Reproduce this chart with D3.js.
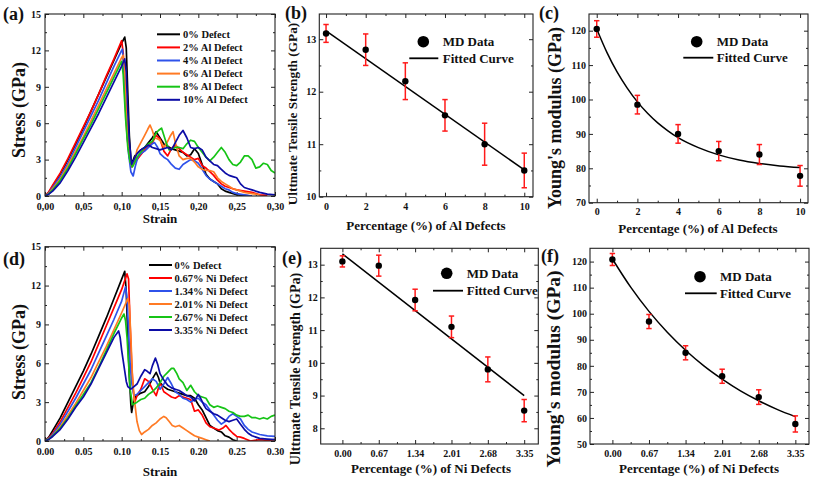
<!DOCTYPE html>
<html><head><meta charset="utf-8">
<script src="https://cdn.jsdelivr.net/npm/d3@7"></script>
<style>body{margin:0;background:#fff}svg{display:block}</style>
</head><body><svg id="c" width="813" height="482"></svg>
<script>
// ---------------- DATA ----------------
const strainTicks = [0,0.05,0.10,0.15,0.20,0.25,0.30];
const strainMinor = [0.025,0.075,0.125,0.175,0.225,0.275];
const stressTicks = [0,3,6,9,12,15];
const stressMinor = [1.5,4.5,7.5,10.5,13.5];

const alLegend = ["0% Defect","2% Al Defect","4% Al Defect","6% Al Defect","8% Al Defect","10% Al Defect"];
const niLegend = ["0% Defect","0.67% Ni Defect","1.34% Ni Defect","2.01% Ni Defect","2.67% Ni Defect","3.35% Ni Defect"];
const curveColors = ["#000000","#ff0000","#2f52ea","#ff7a24","#16c416","#0c0ca6"];

const al0 = [[0,0],[0.005,0.3],[0.01,0.8],[0.02,1.8],[0.03,3.0],[0.04,4.3],[0.05,5.6],[0.06,7.0],[0.07,8.4],[0.08,9.8],[0.09,11.2],[0.1,12.6],[0.104,13.1],[0.106,12.2],[0.108,8.5],[0.11,5.0],[0.112,3.0],[0.114,2.8],[0.117,3.3],[0.12,3.5],[0.125,3.8],[0.13,4.0],[0.135,4.4],[0.14,4.8],[0.145,5.3],[0.148,5.0],[0.152,4.6],[0.156,4.2],[0.16,4.1],[0.165,3.9],[0.17,3.8],[0.175,3.7],[0.18,3.6],[0.185,3.3],[0.19,3.4],[0.195,3.9],[0.2,3.5],[0.205,2.6],[0.21,1.8],[0.215,1.4],[0.22,1.2],[0.225,1.0],[0.23,0.6],[0.235,0.4],[0.24,0.3],[0.25,0.1],[0.26,0.05],[0.27,0]];
const al2 = [[0,0],[0.005,0.35],[0.01,0.9],[0.02,1.9],[0.03,3.1],[0.04,4.4],[0.05,5.7],[0.06,7.0],[0.07,8.4],[0.08,9.9],[0.09,11.3],[0.1,12.8],[0.102,11.8],[0.104,8.5],[0.107,5.0],[0.11,3.2],[0.113,2.4],[0.116,2.7],[0.12,3.0],[0.125,3.4],[0.13,3.8],[0.135,4.1],[0.14,4.4],[0.145,5.0],[0.15,4.7],[0.155,3.7],[0.16,3.3],[0.165,3.9],[0.17,4.2],[0.175,3.9],[0.18,3.6],[0.185,3.4],[0.19,3.2],[0.195,3.0],[0.2,3.1],[0.205,2.5],[0.21,2.3],[0.215,2.0],[0.22,1.7],[0.225,1.3],[0.23,1.0],[0.235,0.8],[0.24,0.7],[0.245,0.6],[0.25,0.5],[0.26,0.4],[0.27,0.3],[0.28,0.1],[0.29,0.05]];
const al4 = [[0,0],[0.005,0.25],[0.01,0.7],[0.02,1.6],[0.03,2.7],[0.04,4.0],[0.05,5.3],[0.06,6.6],[0.07,7.9],[0.08,9.3],[0.09,10.7],[0.1,12.0],[0.101,12.1],[0.103,10.5],[0.106,6.5],[0.109,3.5],[0.112,2.0],[0.115,1.65],[0.118,2.5],[0.121,3.2],[0.125,3.5],[0.13,3.7],[0.135,4.0],[0.14,4.3],[0.143,4.4],[0.147,4.0],[0.15,3.5],[0.155,3.2],[0.16,3.0],[0.165,2.6],[0.17,2.3],[0.175,2.2],[0.18,2.6],[0.185,2.8],[0.19,3.0],[0.195,2.9],[0.2,2.7],[0.205,2.2],[0.21,1.7],[0.215,1.4],[0.22,1.2],[0.225,1.0],[0.23,0.8],[0.235,0.6],[0.24,0.5],[0.245,0.3],[0.25,0.2],[0.26,0.1],[0.27,0]];
const al6 = [[0,0],[0.005,0.2],[0.01,0.6],[0.02,1.4],[0.03,2.5],[0.04,3.7],[0.05,4.9],[0.06,6.2],[0.07,7.5],[0.08,8.8],[0.09,10.1],[0.1,11.4],[0.102,11.6],[0.104,10.5],[0.106,7.0],[0.109,4.0],[0.112,2.6],[0.115,2.5],[0.118,3.2],[0.12,3.8],[0.125,4.4],[0.13,5.0],[0.134,5.5],[0.137,5.85],[0.14,5.4],[0.143,4.8],[0.147,4.7],[0.15,4.6],[0.155,4.0],[0.16,4.5],[0.163,4.9],[0.167,5.3],[0.17,4.4],[0.175,3.3],[0.18,3.0],[0.185,3.1],[0.19,3.1],[0.195,2.8],[0.2,2.4],[0.205,2.2],[0.21,2.1],[0.215,2.1],[0.22,2.0],[0.225,1.5],[0.23,1.2],[0.235,1.0],[0.24,0.8],[0.245,0.6],[0.25,0.5],[0.26,0.3],[0.27,0.2],[0.28,0.1]];
const al8 = [[0,0],[0.005,0.18],[0.01,0.5],[0.02,1.3],[0.03,2.3],[0.04,3.5],[0.05,4.7],[0.06,5.9],[0.07,7.2],[0.08,8.5],[0.09,9.8],[0.1,11.1],[0.102,10.0],[0.105,6.5],[0.108,4.0],[0.111,2.8],[0.114,2.4],[0.117,2.8],[0.12,3.2],[0.125,3.6],[0.13,4.0],[0.135,4.3],[0.14,4.5],[0.145,5.2],[0.148,5.4],[0.152,5.6],[0.155,5.0],[0.158,4.4],[0.162,3.8],[0.166,3.9],[0.17,4.0],[0.175,4.0],[0.18,3.9],[0.185,4.3],[0.19,4.6],[0.195,4.5],[0.2,4.0],[0.205,3.6],[0.21,3.2],[0.215,2.9],[0.22,3.2],[0.225,3.6],[0.23,4.0],[0.235,3.6],[0.24,3.0],[0.245,2.6],[0.25,2.5],[0.255,2.8],[0.26,3.3],[0.265,3.3],[0.27,3.0],[0.275,2.3],[0.28,2.4],[0.285,2.7],[0.29,2.6],[0.295,2.1],[0.3,1.9]];
const al10 = [[0,0],[0.005,0.15],[0.01,0.4],[0.02,1.1],[0.03,2.1],[0.04,3.2],[0.05,4.4],[0.06,5.6],[0.07,6.8],[0.08,8.1],[0.09,9.4],[0.1,10.7],[0.104,11.3],[0.106,10.2],[0.108,7.0],[0.11,4.5],[0.113,2.6],[0.116,3.0],[0.12,3.5],[0.125,3.8],[0.13,4.0],[0.135,4.2],[0.14,4.0],[0.145,3.9],[0.15,3.8],[0.155,3.9],[0.16,4.0],[0.165,3.8],[0.17,4.4],[0.175,5.0],[0.18,5.4],[0.185,4.8],[0.19,4.0],[0.195,3.9],[0.2,4.0],[0.205,3.8],[0.21,3.2],[0.215,2.9],[0.22,2.6],[0.225,2.5],[0.23,2.2],[0.235,1.9],[0.24,1.7],[0.245,1.6],[0.25,1.5],[0.255,1.0],[0.26,0.7],[0.265,0.6],[0.27,0.5],[0.28,0.3],[0.29,0.15],[0.3,0.1]];

const ni0 = [[0,0],[0.005,0.3],[0.01,0.8],[0.02,1.8],[0.03,3.0],[0.04,4.2],[0.05,5.4],[0.06,6.7],[0.07,8.1],[0.08,9.5],[0.09,11.0],[0.1,12.5],[0.104,13.1],[0.106,11.5],[0.108,8.0],[0.11,5.0],[0.112,2.8],[0.113,2.2],[0.115,2.9],[0.118,3.4],[0.12,3.5],[0.125,3.7],[0.13,3.8],[0.135,4.2],[0.14,4.8],[0.145,5.3],[0.148,4.9],[0.15,4.5],[0.155,4.2],[0.16,4.0],[0.165,3.9],[0.17,3.8],[0.175,3.7],[0.18,3.6],[0.185,3.5],[0.19,3.5],[0.195,3.3],[0.2,2.8],[0.205,2.4],[0.21,1.8],[0.215,1.2],[0.22,1.0],[0.225,0.8],[0.23,0.7],[0.235,0.4],[0.24,0.3],[0.245,0.1],[0.25,0]];
const ni067 = [[0,0],[0.005,0.25],[0.01,0.6],[0.02,1.5],[0.03,2.6],[0.04,3.7],[0.05,4.9],[0.06,6.1],[0.07,7.5],[0.08,8.9],[0.09,10.3],[0.1,11.7],[0.107,12.9],[0.109,12.5],[0.111,9.0],[0.113,6.0],[0.115,4.0],[0.117,3.0],[0.12,3.5],[0.125,4.0],[0.13,4.8],[0.135,4.6],[0.14,4.0],[0.145,3.5],[0.15,4.5],[0.155,3.8],[0.16,3.6],[0.165,3.4],[0.17,3.3],[0.175,3.5],[0.18,3.4],[0.185,3.3],[0.19,3.2],[0.195,2.3],[0.2,2.4],[0.205,2.0],[0.21,1.4],[0.215,1.1],[0.22,1.0],[0.227,0.85],[0.232,1.0],[0.236,1.2],[0.24,0.9],[0.245,0.6],[0.25,0.35],[0.255,0.3],[0.26,0.2],[0.268,0],[0.28,0.1],[0.29,0.05],[0.3,0.1]];
const ni134 = [[0,0],[0.005,0.2],[0.01,0.5],[0.02,1.3],[0.03,2.3],[0.04,3.3],[0.05,4.4],[0.06,5.5],[0.07,6.8],[0.08,8.1],[0.09,9.4],[0.1,10.8],[0.105,11.9],[0.107,11.0],[0.109,8.5],[0.111,6.0],[0.113,4.5],[0.116,3.5],[0.12,3.6],[0.125,3.9],[0.13,4.2],[0.135,4.5],[0.14,4.8],[0.145,4.6],[0.15,4.0],[0.155,4.4],[0.16,4.9],[0.165,4.4],[0.17,3.8],[0.175,3.6],[0.18,3.3],[0.185,3.2],[0.19,3.0],[0.195,3.2],[0.2,3.3],[0.205,3.0],[0.21,2.8],[0.215,2.4],[0.22,2.0],[0.225,1.6],[0.23,1.3],[0.235,1.5],[0.24,1.9],[0.245,2.1],[0.25,1.9],[0.255,1.7],[0.26,1.2],[0.265,0.9],[0.27,0.7],[0.275,0.6],[0.28,0.5],[0.29,0.4],[0.3,0.35]];
const ni201 = [[0,0],[0.005,0.15],[0.01,0.4],[0.02,1.1],[0.03,2.0],[0.04,2.9],[0.05,3.9],[0.06,4.9],[0.07,6.1],[0.08,7.3],[0.09,8.6],[0.1,9.9],[0.108,11.0],[0.11,10.5],[0.112,8.0],[0.114,5.0],[0.116,3.5],[0.118,2.5],[0.12,1.5],[0.123,0.8],[0.126,0.5],[0.13,0.7],[0.135,0.9],[0.14,1.2],[0.145,1.4],[0.15,1.7],[0.155,1.9],[0.158,1.8],[0.162,1.5],[0.166,1.2],[0.17,1.1],[0.175,1.2],[0.18,1.0],[0.185,0.8],[0.19,0.6],[0.195,0.4],[0.2,0.3],[0.205,0.2],[0.21,0.1],[0.215,0]];
const ni267 = [[0,0],[0.005,0.15],[0.01,0.4],[0.02,1.0],[0.03,1.8],[0.04,2.7],[0.05,3.6],[0.06,4.5],[0.07,5.7],[0.08,7.0],[0.09,8.3],[0.1,9.5],[0.103,9.8],[0.105,9.3],[0.107,8.0],[0.109,6.0],[0.111,4.0],[0.114,2.8],[0.117,2.9],[0.12,3.0],[0.125,3.2],[0.13,3.3],[0.135,3.6],[0.14,3.8],[0.145,4.1],[0.15,4.5],[0.155,5.0],[0.16,5.3],[0.165,5.6],[0.168,5.6],[0.172,5.2],[0.175,4.8],[0.18,4.5],[0.185,3.9],[0.19,4.3],[0.195,3.8],[0.2,3.5],[0.205,3.4],[0.21,3.3],[0.215,2.8],[0.22,2.6],[0.225,2.7],[0.23,2.6],[0.235,2.5],[0.24,2.3],[0.245,2.2],[0.25,2.0],[0.255,1.9],[0.26,1.9],[0.265,2.0],[0.27,1.8],[0.275,1.8],[0.28,1.7],[0.285,1.8],[0.29,1.7],[0.295,1.9],[0.3,2.0]];
const ni335 = [[0,0],[0.005,0.12],[0.01,0.35],[0.02,0.9],[0.03,1.7],[0.04,2.6],[0.05,3.4],[0.06,4.4],[0.07,5.6],[0.08,6.8],[0.09,8.0],[0.096,8.5],[0.098,8.0],[0.1,7.0],[0.103,5.8],[0.106,4.6],[0.108,4.2],[0.112,4.0],[0.116,4.2],[0.12,4.4],[0.125,5.0],[0.13,5.5],[0.133,5.4],[0.137,5.2],[0.14,5.8],[0.144,6.4],[0.147,5.9],[0.15,5.2],[0.155,4.7],[0.16,4.3],[0.165,4.1],[0.17,4.0],[0.175,3.9],[0.18,3.7],[0.185,3.5],[0.19,3.4],[0.195,3.1],[0.2,3.6],[0.203,3.3],[0.207,2.8],[0.21,2.5],[0.215,2.3],[0.22,2.1],[0.225,2.0],[0.23,1.8],[0.235,1.6],[0.24,1.5],[0.245,1.6],[0.25,1.7],[0.255,1.3],[0.26,0.9],[0.265,0.6],[0.27,0.4],[0.28,0.2],[0.29,0.15],[0.3,0.1]];

const alPct = [0,2,4,6,8,10];
const alPctMinor = [1,3,5,7,9];
const alUTS = [13.11,12.8,12.2,11.55,11.0,10.5];
const alUTSErr = [0.17,0.3,0.35,0.3,0.4,0.33];
const alUTSFitX = [0,10];
const alUTSFitY = [13.16,10.51];
const utsTicksAl = [10,11,12,13];
const utsMinorAl = [10.5,11.5,12.5];

const alYM = [120.5,98.5,90.0,85.0,84.0,77.8];
const alYMErr = [2.4,2.7,2.7,2.8,2.9,3.0];
const alYMFitX = [0,0.5,1,1.5,2,2.5,3,3.5,4,5,6,7,8,9,10];
const alYMFitY = [120.5,113.7,108.0,103.3,99.3,96.0,93.2,90.9,88.9,86.0,83.9,82.4,81.4,80.7,80.2];
const ymTicksAl = [70,80,90,100,110,120];
const ymMinorAl = [75,85,95,105,115];

const niPct = [0,0.67,1.34,2.01,2.68,3.35];
const niPctMinor = [0.335,1.005,1.675,2.345,3.015];
const niUTS = [13.1,12.97,11.92,11.1,9.8,8.54];
const niUTSErr = [0.17,0.32,0.33,0.33,0.38,0.34];
const niUTSFitX = [0,3.35];
const niUTSFitY = [13.33,9.0];
const utsTicksNi = [8,9,10,11,12,13];
const utsMinorNi = [8.5,9.5,10.5,11.5,12.5];

const niYM = [120.8,97.0,85.0,76.0,68.0,57.7];
const niYMErr = [2.3,2.7,2.7,2.7,2.8,3.1];
const niYMFitX = [0,0.335,0.67,1.005,1.34,1.675,2.01,2.345,2.68,3.015,3.35];
const niYMFitY = [121.0,110.2,100.9,92.9,86.0,80.0,74.9,70.4,66.6,63.3,60.5];
const ymTicksNi = [50,60,70,80,90,100,110,120];
const ymMinorNi = [55,65,75,85,95,105,115];

// ---------------- DRAW ----------------
const svg = d3.select("#c");
svg.append("rect").attr("width",813).attr("height",482).attr("fill","#fff");
const FONT = "'Liberation Serif','Times New Roman',serif";

function txt(x,y,s,size,opts={}){
  const t = svg.append("text").attr("x",x).attr("y",y).text(s)
    .attr("font-family",FONT).attr("font-weight","bold").attr("font-size",size)
    .attr("fill","#111").attr("text-anchor",opts.anchor||"start");
  if(opts.rotate) t.attr("transform",`rotate(-90,${x},${y})`);
  if(opts.dy) t.attr("dy",opts.dy);
  return t;
}

function panel(c){
  const x = d3.scaleLinear().domain(c.xd).range([c.x0,c.x1]);
  const y = d3.scaleLinear().domain(c.yd).range([c.y1,c.y0]);
  const g = svg.append("g");
  const style = sel => {
    sel.select(".domain").remove();
    sel.selectAll("line").attr("stroke","#222").attr("stroke-width",1);
    sel.selectAll("text").attr("font-family",FONT).attr("font-weight","bold")
      .attr("font-size",c.tickFont||10).attr("fill","#111");
  };
  g.append("g").attr("transform",`translate(0,${c.y1})`)
    .call(d3.axisBottom(x).tickValues(c.xt).tickFormat(c.xf).tickSize(-4).tickPadding(c.xpad||5)).call(style);
  g.append("g").attr("transform",`translate(0,${c.y1})`)
    .call(d3.axisBottom(x).tickValues(c.xm).tickFormat("").tickSize(-2)).call(style);
  g.append("g").attr("transform",`translate(0,${c.y0})`)
    .call(d3.axisTop(x).tickValues(c.xt).tickFormat("").tickSize(-4)).call(style);
  g.append("g").attr("transform",`translate(0,${c.y0})`)
    .call(d3.axisTop(x).tickValues(c.xm).tickFormat("").tickSize(-2)).call(style);
  g.append("g").attr("transform",`translate(${c.x0},0)`)
    .call(d3.axisLeft(y).tickValues(c.yt).tickFormat(c.yf).tickSize(-4).tickPadding(c.ypad||3)).call(style);
  g.append("g").attr("transform",`translate(${c.x0},0)`)
    .call(d3.axisLeft(y).tickValues(c.ym).tickFormat("").tickSize(-2)).call(style);
  g.append("g").attr("transform",`translate(${c.x1},0)`)
    .call(d3.axisRight(y).tickValues(c.yt).tickFormat("").tickSize(-4)).call(style);
  g.append("g").attr("transform",`translate(${c.x1},0)`)
    .call(d3.axisRight(y).tickValues(c.ym).tickFormat("").tickSize(-2)).call(style);
  return {x,y,g};
}

function frame(c){
  svg.append("rect").attr("x",c.x0).attr("y",c.y0).attr("width",c.x1-c.x0).attr("height",c.y1-c.y0)
    .attr("fill","none").attr("stroke","#222").attr("stroke-width",1.1);
}

function stressPanel(c, curves, legend, leg){
  const p = panel(c);
  const clipId = "clip"+c.id;
  svg.append("clipPath").attr("id",clipId).append("rect")
    .attr("x",c.x0).attr("y",c.y0-2).attr("width",c.x1-c.x0).attr("height",c.y1-c.y0+2);
  const line = d3.line().x(d=>p.x(d[0])).y(d=>p.y(d[1]));
  const cg = svg.append("g").attr("clip-path",`url(#${clipId})`);
  curves.forEach((cv,i)=>{
    cg.append("path").attr("d",line(cv)).attr("fill","none")
      .attr("stroke",curveColors[i]).attr("stroke-width",1.7).attr("stroke-linejoin","round");
  });
  frame(c);
  legend.forEach((s,i)=>{
    const yy = leg.y + i*leg.dy;
    svg.append("line").attr("x1",leg.lx0).attr("x2",leg.lx1).attr("y1",yy).attr("y2",yy)
      .attr("stroke",curveColors[i]).attr("stroke-width",2);
    txt(leg.tx, yy, s, 10.5, {dy:"0.35em"});
  });
  return p;
}

function dataPanel(c, xs, ys, errs, fx, fy, leg){
  const p = panel(c);
  const line = d3.line().x(d=>p.x(d[0])).y(d=>p.y(d[1])).curve(d3.curveMonotoneX);
  svg.append("path").attr("d",line(fx.map((v,i)=>[v,fy[i]]))).attr("fill","none")
    .attr("stroke","#000").attr("stroke-width",1.5);
  xs.forEach((v,i)=>{
    const cx = p.x(v), top = p.y(ys[i]+errs[i]), bot = p.y(ys[i]-errs[i]);
    const eg = svg.append("g").attr("stroke","#ff1a1a").attr("stroke-width",1.5);
    eg.append("line").attr("x1",cx).attr("x2",cx).attr("y1",top).attr("y2",bot);
    eg.append("line").attr("x1",cx-2.7).attr("x2",cx+2.7).attr("y1",top).attr("y2",top);
    eg.append("line").attr("x1",cx-2.7).attr("x2",cx+2.7).attr("y1",bot).attr("y2",bot);
    svg.append("circle").attr("cx",cx).attr("cy",p.y(ys[i])).attr("r",3.2).attr("fill","#000");
  });
  frame(c);
  svg.append("circle").attr("cx",leg.cx).attr("cy",leg.cy).attr("r",5.8).attr("fill","#000");
  txt(leg.tx, leg.cy, "MD Data", 13, {dy:"0.35em"});
  svg.append("line").attr("x1",leg.lx0).attr("x2",leg.lx1).attr("y1",leg.ly).attr("y2",leg.ly)
    .attr("stroke","#000").attr("stroke-width",1.8);
  txt(leg.tx, leg.ly, "Fitted Curve", 13, {dy:"0.35em"});
  return p;
}

const commaFmt = d => d3.format(".2f")(d).replace(".",",");
const dotFmt = d3.format(".2f");
const intFmt = d3.format("d");

// (a)
stressPanel({id:"a",x0:45,x1:275,y0:14,y1:196,xd:[0,0.3],yd:[0,15],xt:strainTicks,xm:strainMinor,
  yt:stressTicks,ym:stressMinor,xf:commaFmt,yf:intFmt,xpad:6.5,ypad:4},
  [al0,al2,al4,al6,al8,al10], alLegend, {y:34.3,dy:13.1,lx0:157,lx1:180,tx:183});
// (d)
stressPanel({id:"d",x0:45,x1:275,y0:246.7,y1:441,xd:[0,0.3],yd:[0,15],xt:strainTicks,xm:strainMinor,
  yt:stressTicks,ym:stressMinor,xf:dotFmt,yf:intFmt,xpad:6.5,ypad:4},
  [ni0,ni067,ni134,ni201,ni267,ni335], niLegend, {y:265,dy:13,lx0:149,lx1:172,tx:174.5});

// (b)
dataPanel({x0:319.3,x1:533,y0:14,y1:196.7,xd:[-0.34,10.44],yd:[10,13.48],xt:alPct,xm:alPctMinor,
  yt:utsTicksAl,ym:utsMinorAl,xf:intFmt,yf:intFmt,xpad:6},
  alPct, alUTS, alUTSErr, alUTSFitX, alUTSFitY,
  {cx:423.3,cy:41.7,tx:442.7,lx0:409.3,lx1:438.3,ly:58.3});
// (c)
dataPanel({x0:589,x1:808,y0:14,y1:202.7,xd:[-0.38,10.39],yd:[70,124.85],xt:alPct,xm:alPctMinor,
  yt:ymTicksAl,ym:ymMinorAl,xf:intFmt,yf:intFmt,xpad:5},
  alPct, alYM, alYMErr, alYMFitX, alYMFitY,
  {cx:696.7,cy:41.7,tx:716.7,lx0:683.3,lx1:713.3,ly:57.7});
// (e)
dataPanel({x0:320.7,x1:538.3,y0:248.3,y1:444,xd:[-0.40,3.61],yd:[7.52,13.5],xt:niPct,xm:niPctMinor,
  yt:utsTicksNi,ym:utsMinorNi,xf:dotFmt,yf:intFmt,xpad:6},
  niPct, niUTS, niUTSErr, niUTSFitX, niUTSFitY,
  {cx:446.7,cy:273.3,tx:466.7,lx0:433,lx1:463,ly:290.7});
// (f)
dataPanel({x0:590,x1:809,y0:248.3,y1:444,xd:[-0.41,3.60],yd:[50,125.1],xt:niPct,xm:niPctMinor,
  yt:ymTicksNi,ym:ymMinorNi,xf:dotFmt,yf:intFmt,xpad:6},
  niPct, niYM, niYMErr, niYMFitX, niYMFitY,
  {cx:700,cy:276.7,tx:720,lx0:685,lx1:716.7,ly:293.3});

// axis titles
txt(160,223,"Strain",13,{anchor:"middle"});
txt(160,476,"Strain",13,{anchor:"middle"});
txt(25,110,"Stress (GPa)",18,{anchor:"middle",rotate:true});
txt(25,352,"Stress (GPa)",18,{anchor:"middle",rotate:true});
txt(426,230,"Percentage (%) of Al Defects",13,{anchor:"middle"});
txt(698,233,"Percentage (%) of Al Defects",13,{anchor:"middle"});
txt(431,473,"Percentage (%) of Ni Defects",13,{anchor:"middle"});
txt(699,473,"Percentage (%) of Ni Defects",13,{anchor:"middle"});
txt(296.5,114,"Ulttmate Tensile Strength (GPa)",13.3,{anchor:"middle",rotate:true});
txt(300,369,"Ulttmate Tensile Strength (GPa)",14,{anchor:"middle",rotate:true});
txt(561,118,"Young's modulus (GPa)",18,{anchor:"middle",rotate:true});
txt(560,369,"Young's modulus (GPa)",19.5,{anchor:"middle",rotate:true});
// panel letters
txt(3,20,"(a)",18);
txt(285,19,"(b)",18);
txt(539,19,"(c)",18);
txt(3,265,"(d)",18);
txt(282,264,"(e)",18);
txt(541,262,"(f)",18);
</script></body></html>
